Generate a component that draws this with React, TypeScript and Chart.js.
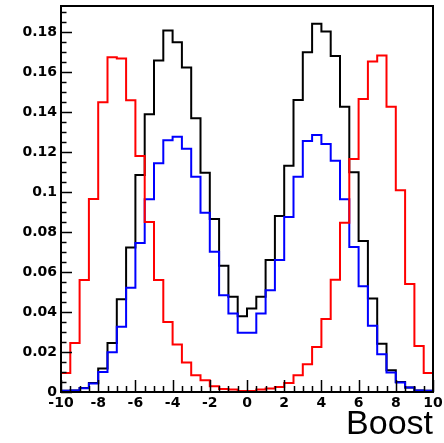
import React, { useEffect, useRef } from "react";
import { Chart, registerables } from "chart.js";

Chart.register(...registerables);

// Histogram bin edges (40 bins of width 0.5)
const binEdges = [
  -10, -9.5, -9, -8.5, -8, -7.5, -7, -6.5, -6, -5.5, -5, -4.5, -4, -3.5, -3, -2.5, -2, -1.5, -1, -0.5,
  0, 0.5, 1, 1.5, 2, 2.5, 3, 3.5, 4, 4.5, 5, 5.5, 6, 6.5, 7, 7.5, 8, 8.5, 9, 9.5, 10,
];

const redValues = [
  0.0095, 0.0245, 0.056, 0.0965, 0.145, 0.1675, 0.1668, 0.146, 0.118, 0.0851,
  0.056, 0.035, 0.0237, 0.0147, 0.0084, 0.0059, 0.0029, 0.0015, 0.0012, 0.0005,
  0.0005, 0.0012, 0.0018, 0.0025, 0.0045, 0.0084, 0.0139, 0.0225, 0.0365, 0.0562,
  0.0847, 0.1165, 0.1466, 0.1653, 0.1683, 0.1427, 0.1009, 0.054, 0.023, 0.0095,
];

const blackValues = [
  0.0006, 0.0008, 0.002, 0.0045, 0.0117, 0.0245, 0.0464, 0.0723, 0.1085, 0.139,
  0.1658, 0.1808, 0.175, 0.1623, 0.1369, 0.1097, 0.0865, 0.0631, 0.0476, 0.0379,
  0.0418, 0.0476, 0.066, 0.0881, 0.1132, 0.1461, 0.17, 0.1842, 0.1803, 0.1681,
  0.1427, 0.1099, 0.0755, 0.0468, 0.0242, 0.0109, 0.005, 0.0022, 0.0008, 0.0006,
];

const blueValues = [
  0.0006, 0.0008, 0.0019, 0.0043, 0.01, 0.0199, 0.0327, 0.0521, 0.0746, 0.0964,
  0.1144, 0.126, 0.1277, 0.1217, 0.1077, 0.0897, 0.0701, 0.0484, 0.0393, 0.0297,
  0.0297, 0.0393, 0.0509, 0.066, 0.0876, 0.1077, 0.1256, 0.1286, 0.1241, 0.1157,
  0.0964, 0.0726, 0.0529, 0.0331, 0.0189, 0.0097, 0.0047, 0.0022, 0.0007, 0.0006,
];

const xTickValues = [-10, -8, -6, -4, -2, 0, 2, 4, 6, 8, 10];
const yTickValues = [0, 0.02, 0.04, 0.06, 0.08, 0.1, 0.12, 0.14, 0.16, 0.18];
const xMinorPerMajor = 4;
const yMinorPerMajor = 4;

const X_MIN = -10;
const X_MAX = 10;
const Y_MIN = 0;
const Y_MAX = 0.1931;
const xTitle = "Boost";

function histPoints(values: number[]) {
  const pts = values.map((v, i) => ({ x: binEdges[i], y: v }));
  pts.push({ x: binEdges[values.length], y: values[values.length - 1] });
  return pts;
}

const framePlugin = {
  id: "rootFrame",
  afterDatasetsDraw(chart: any) {
    const { ctx, chartArea, scales } = chart;
    const xs = scales.x;
    const ys = scales.y;
    ctx.save();
    ctx.strokeStyle = "#000";
    ctx.lineWidth = 1.5;
    // y ticks (inward)
    const yStep = yTickValues[1] - yTickValues[0];
    const yMinor = yStep / yMinorPerMajor;
    ctx.beginPath();
    for (let k = 0; ; k++) {
      const v = Y_MIN + k * yMinor;
      if (v > Y_MAX + 1e-9) break;
      const major = k % yMinorPerMajor === 0;
      const py = Math.round(ys.getPixelForValue(v)) + 0.5;
      const len = major ? 11 : 5.5;
      ctx.moveTo(chartArea.left, py);
      ctx.lineTo(chartArea.left + len, py);
    }
    // x ticks (inward)
    const xStep = xTickValues[1] - xTickValues[0];
    const xMinor = xStep / xMinorPerMajor;
    for (let k = 0; ; k++) {
      const v = X_MIN + k * xMinor;
      if (v > X_MAX + 1e-9) break;
      const major = k % xMinorPerMajor === 0;
      const px = Math.round(xs.getPixelForValue(v)) + 0.5;
      const len = major ? 12 : 6;
      ctx.moveTo(px, chartArea.bottom);
      ctx.lineTo(px, chartArea.bottom - len);
    }
    ctx.stroke();
    // frame
    ctx.lineWidth = 2;
    ctx.strokeRect(chartArea.left, chartArea.top, chartArea.right - chartArea.left, chartArea.bottom - chartArea.top);
    ctx.restore();
  },
};

const tickFont = { family: '"DejaVu Sans", sans-serif', size: 14, weight: "bold" as const };

export default function App() {
  const ref = useRef<HTMLCanvasElement | null>(null);
  useEffect(() => {
    document.body.style.margin = "0";
    const canvas = ref.current;
    if (!canvas) return;
    const chart = new Chart(canvas, {
      type: "line",
      data: {
        datasets: [
          { label: "red", data: histPoints(redValues), borderColor: "#ff0000", borderWidth: 2, stepped: "before", pointRadius: 0, fill: false },
          { label: "blue", data: histPoints(blueValues), borderColor: "#0000ff", borderWidth: 2, stepped: "before", pointRadius: 0, fill: false },
          { label: "black", data: histPoints(blackValues), borderColor: "#000000", borderWidth: 2, stepped: "before", pointRadius: 0, fill: false },
        ],
      },
      options: {
        animation: false,
        responsive: false,
        devicePixelRatio: 1,
        layout: { padding: { top: 6, right: 11, left: 0, bottom: 0 } },
        plugins: { legend: { display: false }, tooltip: { enabled: false } },
        scales: {
          x: {
            type: "linear",
            min: X_MIN,
            max: X_MAX,
            afterBuildTicks: (s: any) => {
              s.ticks = xTickValues.map((v) => ({ value: v }));
            },
            afterFit: (s: any) => {
              s.height = 51;
              s.paddingLeft = 0;
              s.paddingRight = 0;
            },
            grid: { display: false, drawTicks: false },
            border: { display: false },
            ticks: {
              font: tickFont,
              color: "#000",
              padding: 3,
              maxRotation: 0,
              autoSkip: false,
              callback: (v: any) => String(v),
            },
            title: {
              display: true,
              text: xTitle,
              align: "end",
              color: "#000",
              font: { family: '"Liberation Sans", Arial, sans-serif', size: 34, lineHeight: 1 },
              padding: { top: 0, bottom: 1 },
            },
          },
          y: {
            type: "linear",
            min: Y_MIN,
            max: Y_MAX,
            afterBuildTicks: (s: any) => {
              s.ticks = yTickValues.map((v) => ({ value: v }));
            },
            afterFit: (s: any) => {
              s.width = 61;
              s.paddingTop = 0;
              s.paddingBottom = 0;
            },
            grid: { display: false, drawTicks: false },
            border: { display: false },
            ticks: {
              font: tickFont,
              color: "#000",
              padding: 4,
              autoSkip: false,
              callback: (v: any) => (v === 0 ? "0" : String(+Number(v).toFixed(2))),
            },
          },
        },
      },
      plugins: [framePlugin],
    } as any);
    return () => chart.destroy();
  }, []);
  return (
    <div style={{ width: 444, height: 443 }}>
      <canvas ref={ref} width={444} height={443} style={{ display: "block", width: 444, height: 443 }} />
    </div>
  );
}
